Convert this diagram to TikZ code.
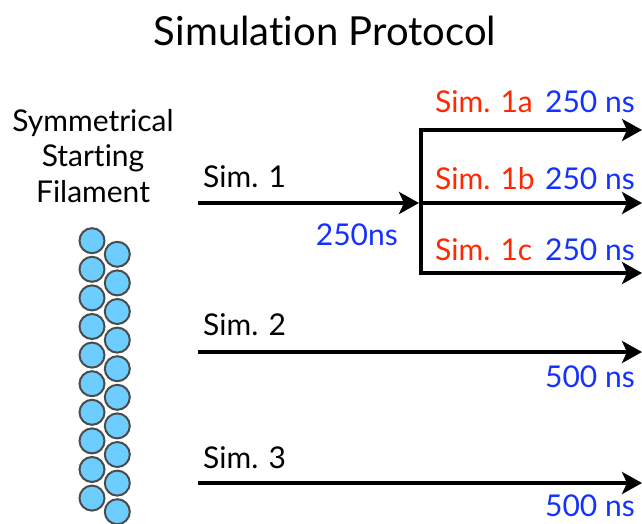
\documentclass[tikz,border=0pt]{standalone}
\usepackage{fontspec}
\setmainfont{Lato}[Ligatures={NoCommon}]
\usetikzlibrary{arrows.meta}
\definecolor{simred}{RGB}{255,40,0}
\definecolor{simblue}{RGB}{20,50,255}
\definecolor{bead}{RGB}{110,205,255}
\definecolor{beadedge}{RGB}{75,75,75}
\begin{document}
\begin{tikzpicture}[x=1pt,y=-1pt,
  flow/.style={line width=4pt,line join=miter,-{Stealth[length=20pt,width=22pt,inset=5pt]}},
  txt/.style={font=\fontsize{30}{34}\selectfont,inner sep=0pt},
  runlbl/.style={txt,anchor=base west},
  timelbl/.style={txt,text=simblue,anchor=base east},
  branchlbl/.style={txt,text=simred,anchor=base west},
  fillbl/.style={txt,anchor=base},
  beadnode/.style={circle,draw=beadedge,line width=2pt,fill=bead,minimum size=25pt,inner sep=0pt}]
\useasboundingbox (0,0) rectangle (642,523);

% title
\node[font=\fontsize{40}{44}\selectfont,anchor=base,inner sep=0pt] (title) at (325,45) {Simulation Protocol};

% filament label
\node[fillbl] (fil1) at (93,131) {Symmetrical};
\node[fillbl] (fil2) at (93,166) {Starting};
\node[fillbl] (fil3) at (93,202) {Filament};

% double row of beads
\foreach \i in {0,...,9}{
  \node[beadnode] (l\i) at (92,{240.7+28.6*\i}) {};
  \node[beadnode] (r\i) at (117.3,{254.3+28.6*\i}) {};
}

% path coordinates
\coordinate (s1) at (198,203);
\coordinate (split) at (421,203);
\coordinate (ta) at (421,130);
\coordinate (tc) at (421,273);
\coordinate (ea) at (642,130);
\coordinate (eb) at (642,203);
\coordinate (ec) at (642,273);
\coordinate (s2) at (198,352);
\coordinate (e2) at (642,352);
\coordinate (s3) at (198,483);
\coordinate (e3) at (642,483);

% Sim. 1 and its branches
\draw[flow] (s1) -- ([xshift=-2pt]split);
\draw[flow] (tc) |- (ea);
\draw[flow] (ta) |- (ec);
\draw[flow] (split) -- (eb);

% Sim. 2 and Sim. 3
\draw[flow] (s2) -- (e2);
\draw[flow] (s3) -- (e3);

% labels
\node[runlbl] (n1) at (203,187) {Sim. 1};
\node[timelbl] (t1) at (398,245) {250ns};
\node[branchlbl] (n1a) at (435,112) {Sim. 1a};
\node[timelbl] (t1a) at (635,112) {250 ns};
\node[branchlbl] (n1b) at (435,189) {Sim. 1b};
\node[timelbl] (t1b) at (635,189) {250 ns};
\node[branchlbl] (n1c) at (435,260) {Sim. 1c};
\node[timelbl] (t1c) at (635,260) {250 ns};
\node[runlbl] (n2) at (203,335) {Sim. 2};
\node[timelbl] (t2) at (635,387) {500 ns};
\node[runlbl] (n3) at (203,468) {Sim. 3};
\node[timelbl] (t3) at (635,516) {500 ns};
\end{tikzpicture}
\end{document}
